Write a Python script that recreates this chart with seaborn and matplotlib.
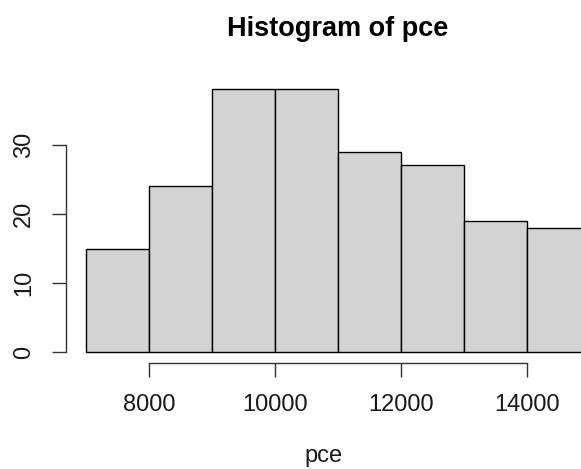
import matplotlib
matplotlib.use("Agg")
import matplotlib.pyplot as plt
import seaborn as sns
import numpy as np

# Histogram bins of pce and their counts
bin_edges = [7000, 8000, 9000, 10000, 11000, 12000, 13000, 14000, 15000]
counts = [15, 24, 38, 38, 29, 27, 19, 18]
x_ticks = [8000, 10000, 12000, 14000]
y_ticks = [0, 10, 20, 30]

centers = [(a + b) / 2 for a, b in zip(bin_edges[:-1], bin_edges[1:])]

sns.set_style("white")
plt.rcParams["font.family"] = ["Liberation Sans", "DejaVu Sans"]
plt.rcParams["text.color"] = "black"

fig = plt.figure(figsize=(5.81, 4.69), dpi=100)
ax = fig.add_axes([0.1133, 0.226, 0.8867, 0.6064])

sns.histplot(x=centers, weights=counts, bins=bin_edges, ax=ax,
             color="#D3D3D3", edgecolor="black", linewidth=1.0, alpha=1.0)

ax.set_xlim(6680, 14862)
ax.set_ylim(-1.52, 39.52)

for s in ["top", "right"]:
    ax.spines[s].set_visible(False)
ax.spines["left"].set_bounds(0, 30)
ax.spines["bottom"].set_bounds(8000, 14000)
for s in ["left", "bottom"]:
    ax.spines[s].set_color("#333333")
    ax.spines[s].set_linewidth(1.0)

ax.set_xticks(x_ticks)
ax.set_xticklabels([str(t) for t in x_ticks])
ax.set_yticks(y_ticks)
ax.set_yticklabels([str(t) for t in y_ticks], rotation=90, va="center")
ax.tick_params(axis="both", length=10, width=1.0, color="#333333",
               labelsize=17, labelcolor="#1a1a1a", direction="out",
               left=True, bottom=True)
ax.tick_params(axis="x", pad=12)
ax.tick_params(axis="y", pad=12)

ax.set_xlabel("pce", fontsize=17, labelpad=21, color="#1a1a1a")
ax.set_ylabel("")

fig.text(338 / 581, 1 - 36 / 469, "Histogram of pce", ha="center", va="baseline",
         fontsize=19.5, fontweight="bold", color="black")

fig.savefig("out.png", dpi=100)
